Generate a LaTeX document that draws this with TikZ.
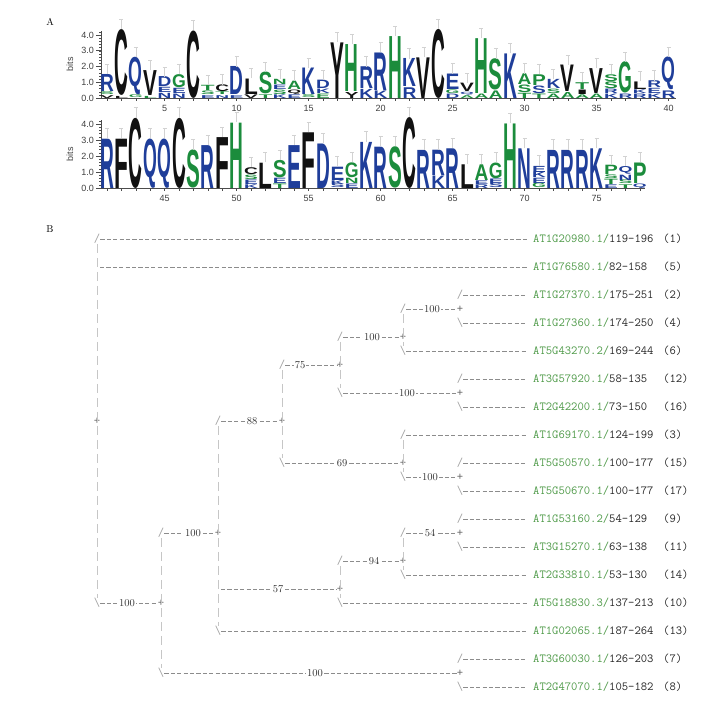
\documentclass[tikz,border=0pt]{standalone}
\usepackage{graphicx}
\usepackage{fontspec}
\setsansfont{Liberation Sans}
\newfontfamily\logofont{Liberation Sans}
\usetikzlibrary{positioning}

\definecolor{bl}{HTML}{1F3E9A}
\definecolor{gr}{HTML}{1B8C3C}
\definecolor{bk}{HTML}{111111}
\definecolor{leafgreen}{HTML}{4E9A48}
\definecolor{treegray}{HTML}{8C8C8C}

\newcommand\treefont{\ttfamily\fontsize{12.3}{14}\selectfont}

% one column of the logo: x, baseline, px per bit, stack (bottom to top)
\newcommand\logostack[4]{%
  \gdef\stacktop{0}%
  \foreach \ltr/\bits/\col in #4 {%
    \pgfmathsetmacro\hh{\bits*#3-0.3}%
    \node[glyph] at (#1,#2-\stacktop)
      {\resizebox*{13.8pt}{\hh pt}{\logofont\bfseries\color{\col}\ltr}};
    \pgfmathsetmacro\nt{\stacktop+\hh+0.3}%
    \xdef\stacktop{\nt}%
  }%
  \draw[errbar] (#1,#2-\stacktop) -- (#1,#2-\stacktop-10)
    (#1-2,#2-\stacktop-10) -- (#1+2,#2-\stacktop-10);
}

\begin{document}
\begin{tikzpicture}[
    x=1pt, y=-1pt,
    glyph/.style={inner sep=0pt, outer sep=0pt, anchor=south},
    errbar/.style={draw=gray!35, line width=0.4pt},
    axis/.style={draw=black!70, line width=0.6pt},
    ticklab/.style={font=\sffamily\fontsize{9}{10}\selectfont, text=black!75, inner sep=1pt},
    panel/.style={font=\rmfamily\fontsize{10}{12}\selectfont},
    branch/.style={draw=treegray, line width=0.5pt, dash pattern=on 4.2pt off 2.2pt},
    stem/.style={draw=gray!45, line width=0.5pt, dash pattern=on 9pt off 5pt},
    corner/.style={font=\treefont, text=gray!75, inner sep=0pt},
    joint/.style={font=\treefont, text=black!60, inner sep=0pt},
    boot/.style={fill=white, inner sep=0.8pt, font=\rmfamily\fontsize{10.5}{12}\selectfont, text=black!80},
    leaf/.style={anchor=west, inner sep=0pt, font=\treefont, text=black!85},
    leafno/.style={anchor=west, inner sep=0pt, font=\treefont, text=black!85}
]
\path[use as bounding box, fill=white] (0,0) rectangle (719,702);

% ---------- A: sequence logo ----------
\node[panel] (pA) at (50,22) {A};

% axes
\foreach \base/\ppb/\xend/\bx in {98/15.75/676/64, 188/16/645/154}{
  \draw[axis] (101,\base) -- (101,\base-4.25*\ppb);
  \draw[axis] (101,\base) -- (\xend,\base);
  \foreach \t in {0,...,21}
    \draw[axis, line width=0.4pt] (101,\base-\t*0.2*\ppb) -- ++(-2.5,0);
  \foreach \b in {0,...,4}{
    \draw[axis] (101,\base-\b*\ppb) -- ++(-5,0);
    \node[ticklab, anchor=east] at (95,\base-\b*\ppb) {\b.0};
  }
  \node[ticklab, rotate=90] at (70,\bx) {bits};
}
\foreach \ix in {1,...,40}
  \draw[axis, line width=0.4pt] (107+\ix*14.4-14.4,98) -- ++(0,2.5);
\foreach \ix in {41,...,78}
  \draw[axis, line width=0.4pt] (107+\ix*14.4-590.4,188) -- ++(0,2.5);
\foreach \ix in {5,10,...,40}
  \node[ticklab] at (107+\ix*14.4-14.4,108) {\ix};
\foreach \ix in {45,50,...,75}
  \node[ticklab] at (107+\ix*14.4-590.4,198) {\ix};

% row 1, positions 1-40
\foreach \ix/\stk in {
  1/{V/.2/bk,S/.2/gr,R/1.1/bl}, 2/{L/.15/bk,C/4.2/bk}, 3/{G/.2/gr,Q/2.4/bl},
  4/{L/.15/gr,V/1.6/bk}, 5/{N/.35/bl,E/.35/bl,D/.65/bl}, 6/{N/.3/bl,E/.35/bl,G/.85/gr},
  7/{C/4.3/bk}, 8/{E/.2/bl,S/.25/gr,T/.35/gr}, 9/{N/.2/bl,T/.2/gr,C/.45/bk},
  10/{E/.2/bl,D/1.8/bl}, 11/{V/.25/bk,L/1.0/bk}, 12/{T/.25/gr,S/1.4/gr},
  13/{K/.25/bl,S/.3/gr,E/.3/bl,N/.35/gr}, 14/{E/.25/bl,Q/.3/bk,A/.55/gr},
  15/{S/.2/gr,K/1.7/bl}, 16/{E/.3/gr,K/.3/bl,D/.55/bl}, 17/{Y/3.55/bk},
  18/{Y/.4/bk,H/3.0/gr}, 19/{K/.6/bl,R/1.4/bl}, 20/{K/.5/bl,R/2.4/bl},
  21/{H/3.95/gr}, 22/{R/.7/bl,K/1.8/bl}, 23/{V/2.6/bk}, 24/{C/4.4/bk},
  25/{D/.3/bl,G/.25/gr,E/1.0/bl}, 26/{A/.2/gr,Q/.2/bl,V/.55/bk},
  27/{A/.3/gr,H/3.5/gr}, 28/{A/.5/gr,S/2.0/gr}, 29/{K/2.85/bl},
  30/{T/.35/gr,S/.5/gr,A/.7/gr}, 31/{T/.3/gr,S/.5/bl,P/.7/gr},
  32/{A/.3/gr,S/.3/gr,K/.6/bl}, 33/{A/.4/gr,V/1.7/bk},
  34/{A/.25/gr,I/.3/bk,T/.45/gr}, 35/{A/.3/gr,V/1.6/bk},
  36/{K/.3/bl,R/.3/bl,S/.45/gr,S/.45/gr}, 37/{R/.3/bl,G/2.0/gr},
  38/{R/.3/bl,K/.25/bl,L/.5/bk}, 39/{K/.3/bl,E/.35/bl,R/.45/bl},
  40/{R/.5/bl,Q/2.1/bl}}{
  \pgfmathsetmacro\xx{107+(\ix-1)*14.4}
  \logostack{\xx}{98}{15.75}{\stk}
}

% row 2, positions 41-78
\foreach \ix/\stk in {
  41/{R/3.1/bl}, 42/{F/3.1/bk}, 43/{C/4.4/bk}, 44/{Q/3.1/bl}, 45/{Q/3.1/bl},
  46/{C/4.4/bk}, 47/{S/2.4/gr}, 48/{R/2.7/bl}, 49/{F/3.2/bk}, 50/{H/4.1/gr},
  51/{K/.25/bl,E/.3/bl,S/.3/gr,C/.45/bk}, 52/{L/1.6/bk},
  53/{T/.3/gr,E/.35/bl,S/1.1/gr}, 54/{E/2.7/bl}, 55/{F/3.5/bk}, 56/{D/2.8/bl},
  57/{S/.25/bl,K/.25/bl,E/.85/bl}, 58/{E/.3/bl,N/.35/gr,G/.95/gr},
  59/{K/2.9/bl}, 60/{R/2.6/bl}, 61/{S/2.6/gr}, 62/{C/4.45/bk}, 63/{R/2.4/bl},
  64/{K/.8/bl,R/1.6/bl}, 65/{R/2.5/bl}, 66/{L/1.5/bk},
  67/{R/.25/bl,E/.25/bl,A/1.0/gr}, 68/{S/.3/bl,E/.3/bl,G/1.0/gr},
  69/{H/4.05/gr}, 70/{N/2.5/bl}, 71/{G/.3/gr,E/.35/bl,K/.35/bl,E/.4/bl},
  72/{R/2.4/bl}, 73/{R/2.4/bl}, 74/{R/2.4/bl}, 75/{K/2.5/bl},
  76/{E/.25/bl,T/.35/gr,S/.25/gr,P/.6/gr}, 77/{T/.25/gr,S/.25/gr,N/.35/bl,Q/.5/bl},
  78/{Q/.3/bl,P/1.3/gr}}{
  \pgfmathsetmacro\xx{107+(\ix-41)*14.4}
  \logostack{\xx}{188}{16}{\stk}
}

% ---------- B: tree ----------
\node[panel] (pB) at (50,229) {B};

% leaves (line m sits at y = 239 + 14 m)
\foreach \m/\gid/\rng/\lno in {
  0/AT1G20980.1/119-196/1, 2/AT1G76580.1/82-158/5, 4/AT1G27370.1/175-251/2,
  6/AT1G27360.1/174-250/4, 8/AT5G43270.2/169-244/6, 10/AT3G57920.1/58-135/12,
  12/AT2G42200.1/73-150/16, 14/AT1G69170.1/124-199/3, 16/AT5G50570.1/100-177/15,
  18/AT5G50670.1/100-177/17, 20/AT1G53160.2/54-129/9, 22/AT3G15270.1/63-138/11,
  24/AT2G33810.1/53-130/14, 26/AT5G18830.3/137-213/10, 28/AT1G02065.1/187-264/13,
  30/AT3G60030.1/126-203/7, 32/AT2G47070.1/105-182/8}{
  \node[leaf] (L\lno) at (533,239+14*\m) {\textcolor{leafgreen}{\gid/}\rng};
  \node[leafno] (N\lno) at (663,239+14*\m) {(\lno)};
}

% internal nodes
\node[joint] (nR) at (97,421) {+};
\node[joint] (nL) at (161,603) {+};
\node[joint] (nK) at (218,533) {+};
\node[joint] (nE) at (282,421) {+};
\node[joint] (nC) at (340,365) {+};
\node[joint] (nB) at (403,337) {+};
\node[joint] (nA) at (460,309) {+};
\node[joint] (nD) at (460,393) {+};
\node[joint] (nF) at (403,463) {+};
\node[joint] (nG) at (460,477) {+};
\node[joint] (nJ) at (340,589) {+};
\node[joint] (nI) at (403,561) {+};
\node[joint] (nH) at (460,533) {+};
\node[joint] (nM) at (460,673) {+};

% corners
\node[corner] (c1) at (97,239) {/};
\node[corner] (cL) at (97,603) {\textbackslash};
\coordinate (s5) at (100,267);
\node[corner] (cK) at (161,533) {/};
\node[corner] (cM) at (161,673) {\textbackslash};
\node[corner] (cE) at (218,421) {/};
\coordinate (sJ) at (221,589);
\node[corner] (c13) at (218,631) {\textbackslash};
\node[corner] (cC) at (282,365) {/};
\node[corner] (cF) at (282,463) {\textbackslash};
\node[corner] (cB) at (340,337) {/};
\node[corner] (cD) at (340,393) {\textbackslash};
\node[corner] (cA) at (403,309) {/};
\node[corner] (c6) at (403,351) {\textbackslash};
\node[corner] (c2) at (460,295) {/};
\node[corner] (c4) at (460,323) {\textbackslash};
\node[corner] (c12) at (460,379) {/};
\node[corner] (c16) at (460,407) {\textbackslash};
\node[corner] (c3) at (403,435) {/};
\node[corner] (cG) at (403,477) {\textbackslash};
\node[corner] (c15) at (460,463) {/};
\node[corner] (c17) at (460,491) {\textbackslash};
\node[corner] (cI) at (340,561) {/};
\node[corner] (c10) at (340,603) {\textbackslash};
\node[corner] (cH) at (403,533) {/};
\node[corner] (c14) at (403,575) {\textbackslash};
\node[corner] (c9) at (460,519) {/};
\node[corner] (c11) at (460,547) {\textbackslash};
\node[corner] (c7) at (460,659) {/};
\node[corner] (c8) at (460,687) {\textbackslash};

% stems
\draw[stem] (c1.south) -- (cL.north);
\draw[stem] (cK.south) -- (cM.north);
\draw[stem] (cE.south) -- (c13.north);
\draw[stem] (cC.south) -- (cF.north);
\draw[stem] (cB.south) -- (cD.north);
\draw[stem] (cA.south) -- (c6.north);
\draw[stem] (c3.south) -- (cG.north);
\draw[stem] (cI.south) -- (c10.north);
\draw[stem] (cH.south) -- (c14.north);

% branches to internal nodes
\draw[branch] (cL.east) -- (nL.west);
\draw[branch] (cK.east) -- (nK.west);
\draw[branch] (cM.east) -- (nM.west);
\draw[branch] (cE.east) -- (nE.west);
\draw[branch] (sJ) -- (nJ.west);
\draw[branch] (cC.east) -- (nC.west);
\draw[branch] (cF.east) -- (nF.west);
\draw[branch] (cB.east) -- (nB.west);
\draw[branch] (cD.east) -- (nD.west);
\draw[branch] (cA.east) -- (nA.west);
\draw[branch] (cG.east) -- (nG.west);
\draw[branch] (cI.east) -- (nI.west);
\draw[branch] (cH.east) -- (nH.west);

% branches to leaves
\draw[branch] (c1.east) -- ([xshift=-6pt]L1.west);
\draw[branch] (s5) -- ([xshift=-6pt]L5.west);
\draw[branch] (c2.east) -- ([xshift=-6pt]L2.west);
\draw[branch] (c4.east) -- ([xshift=-6pt]L4.west);
\draw[branch] (c6.east) -- ([xshift=-6pt]L6.west);
\draw[branch] (c12.east) -- ([xshift=-6pt]L12.west);
\draw[branch] (c16.east) -- ([xshift=-6pt]L16.west);
\draw[branch] (c3.east) -- ([xshift=-6pt]L3.west);
\draw[branch] (c15.east) -- ([xshift=-6pt]L15.west);
\draw[branch] (c17.east) -- ([xshift=-6pt]L17.west);
\draw[branch] (c9.east) -- ([xshift=-6pt]L9.west);
\draw[branch] (c11.east) -- ([xshift=-6pt]L11.west);
\draw[branch] (c14.east) -- ([xshift=-6pt]L14.west);
\draw[branch] (c10.east) -- ([xshift=-6pt]L10.west);
\draw[branch] (c13.east) -- ([xshift=-6pt]L13.west);
\draw[branch] (c7.east) -- ([xshift=-6pt]L7.west);
\draw[branch] (c8.east) -- ([xshift=-6pt]L8.west);

% bootstrap values
\node[boot] (bA) at (432,309) {100};
\node[boot] (bB) at (372,337) {100};
\node[boot] (bC) at (300,365) {75};
\node[boot] (bD) at (407,393) {100};
\node[boot] (bE) at (252,421) {88};
\node[boot] (bF) at (342,463) {69};
\node[boot] (bG) at (430,477) {100};
\node[boot] (bH) at (430,533) {54};
\node[boot] (bI) at (374,561) {94};
\node[boot] (bJ) at (278,589) {57};
\node[boot] (bK) at (193,533) {100};
\node[boot] (bL) at (127,603) {100};
\node[boot] (bM) at (315,673) {100};

\end{tikzpicture}
\end{document}
